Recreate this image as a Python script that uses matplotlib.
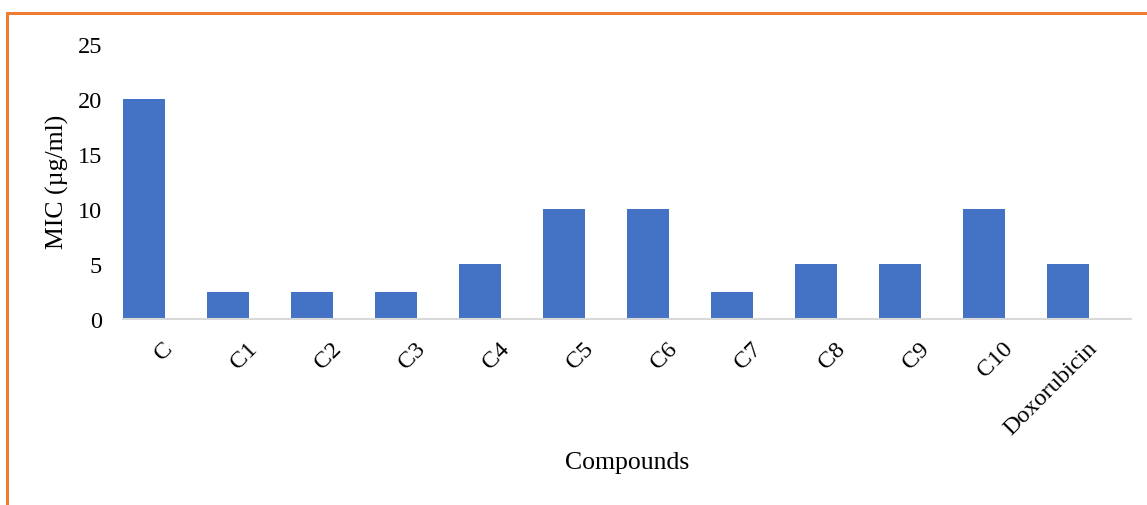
import matplotlib
matplotlib.use("Agg")
import matplotlib.pyplot as plt
import matplotlib.transforms as mtransforms
from matplotlib.patches import Rectangle
import numpy as np

compounds = ["C", "C1", "C2", "C3", "C4", "C5", "C6", "C7", "C8", "C9", "C10", "Doxorubicin"]
mic_values = [20, 2.5, 2.5, 2.5, 5, 10, 10, 2.5, 5, 5, 10, 5]
y_ticks = [0, 5, 10, 15, 20, 25]

plt.rcParams["font.family"] = ["Liberation Serif", "DejaVu Serif"]

W, H = 1147, 506
fig = plt.figure(figsize=(W / 100, H / 100), dpi=100)
ax = fig.add_axes([123 / W, 1 - 320 / H, (1131 - 123) / W, (320 - 45) / H])

x = np.arange(len(compounds))
ax.bar(x, mic_values, width=0.5, color="#4472C4", zorder=2)

ax.set_xlim(-0.25, len(compounds) - 0.25)
ax.set_ylim(0, 25)
ax.set_yticks(y_ticks)
ax.set_yticklabels([str(t) for t in y_ticks], fontsize=17.5)
ax.tick_params(axis="y", length=0, pad=15)
ax.tick_params(axis="x", length=0)

ax.set_xticks(x)
ax.set_xticklabels(compounds, fontsize=17.5, rotation=45, ha="right",
                   va="center", rotation_mode="anchor")
offset = mtransforms.ScaledTranslation(26 / 100, -21 / 100, fig.dpi_scale_trans)
for lbl in ax.get_xticklabels():
    lbl.set_transform(lbl.get_transform() + offset)

for side in ("top", "right", "left"):
    ax.spines[side].set_visible(False)
ax.spines["bottom"].set_color("#D9D9D9")
ax.spines["bottom"].set_linewidth(1.5)

fig.text(57 / W, 1 - 182 / H, "MIC (µg/ml)", rotation=90, fontsize=18.5,
         ha="center", va="center")
fig.text(627 / W, 1 - 463 / H, "Compounds", fontsize=18.5, ha="center", va="center")

# orange frame along the top and left edges
orange = "#ED7D31"
fig.add_artist(Rectangle((6 / W, 1 - 16 / H), (W - 6) / W, 3 / H,
                         transform=fig.transFigure, color=orange, lw=0))
fig.add_artist(Rectangle((6 / W, 1 - 506 / H), 3 / W, (506 - 13) / H,
                         transform=fig.transFigure, color=orange, lw=0))

fig.savefig("out.png", dpi=100)
